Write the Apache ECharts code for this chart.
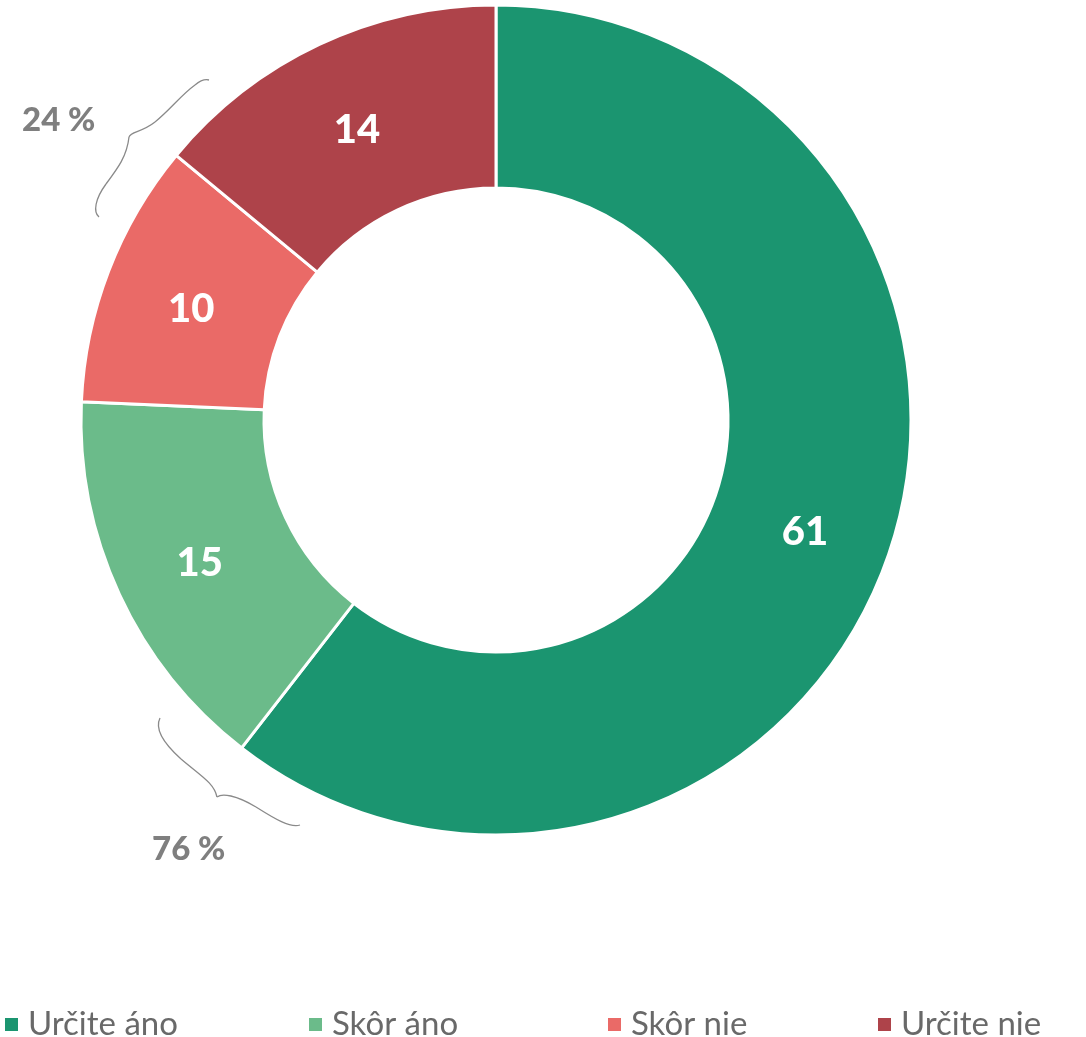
<!DOCTYPE html>
<html>
<head>
<meta charset="utf-8">
<script src="https://cdn.jsdelivr.net/npm/echarts@6/dist/echarts.min.js"></script>
<style>
html,body{margin:0;padding:0;background:#fff;}
#main{width:1086px;height:1037px;}
</style>
</head>
<body>
<div id="main"></div>
<script>
const categories = ['Určite áno', 'Skôr áno', 'Skôr nie', 'Určite nie'];
const values = [60.5, 15.2, 10.3, 14.0];
const palette = ['#1B9570', '#6BBB8A', '#EA6A67', '#AE434A'];

const noShare = Math.round(values[2] + values[3]);
const yesShare = Math.round(values[0] + values[1]);

const chart = echarts.init(document.getElementById('main'), null, {renderer: 'canvas'});

const legendLefts = [-2, 302, 601, 871];
const legends = categories.map((c, i) => ({
  data: [c],
  left: legendLefts[i],
  top: 1003,
  icon: 'rect',
  itemWidth: 15,
  itemHeight: 15,
  selectedMode: false,
  textStyle: {fontFamily: 'Lato', fontSize: 33, color: '#696969', padding: [0, 0, 0, 4]}
}));

// brace decorations: each as a chain of cubic segments [x1,y1,c1x,c1y,c2x,c2y,x2,y2]
const braceSegs = [
  [99,217, 93,212, 95,199, 106,184],
  [106,184, 118,168, 127,156, 129,137],
  [129,137, 131,131, 141,133, 155,122],
  [155,122, 170,110, 181,95, 195,85],
  [195,85, 201,80, 205,79, 209,80],
  [160,718, 155,728, 161,741, 181,759],
  [181,759, 201,776, 214,783, 217,797],
  [217,797, 222,793, 236,795, 256,807],
  [256,807, 275,819, 290,828, 300,825]
];
const braceEls = braceSegs.map(s => ({
  type: 'bezierCurve',
  shape: {x1: s[0], y1: s[1], cpx1: s[2], cpy1: s[3], cpx2: s[4], cpy2: s[5], x2: s[6], y2: s[7]},
  style: {fill: 'none', stroke: '#8a8a8a', lineWidth: 1.3}
}));

const option = {
  animation: false,
  color: palette,
  legend: legends,
  graphic: braceEls.concat([
    {
      type: 'text',
      left: 22, top: 104,
      style: {text: noShare + ' %', fontFamily: 'Lato', fontWeight: 900, fontSize: 33, fill: '#7f7f7f'}
    },
    {
      type: 'text',
      left: 152, top: 833,
      style: {text: yesShare + ' %', fontFamily: 'Lato', fontWeight: 900, fontSize: 33, fill: '#7f7f7f'}
    }
  ]),
  series: [{
    type: 'pie',
    center: [496, 420],
    radius: [232, 415],
    startAngle: 90,
    clockwise: true,
    avoidLabelOverlap: false,
    itemStyle: {borderColor: '#ffffff', borderWidth: 3},
    label: {
      show: true,
      position: 'inside',
      formatter: p => String(Math.round(p.value)),
      fontFamily: 'Lato',
      fontWeight: 900,
      fontSize: 40,
      color: '#ffffff',
      offset: [0, 6]
    },
    labelLine: {show: false},
    emphasis: {disabled: true},
    data: categories.map((c, i) => ({name: c, value: values[i]}))
  }]
};
chart.setOption(option);
</script>
</body>
</html>
